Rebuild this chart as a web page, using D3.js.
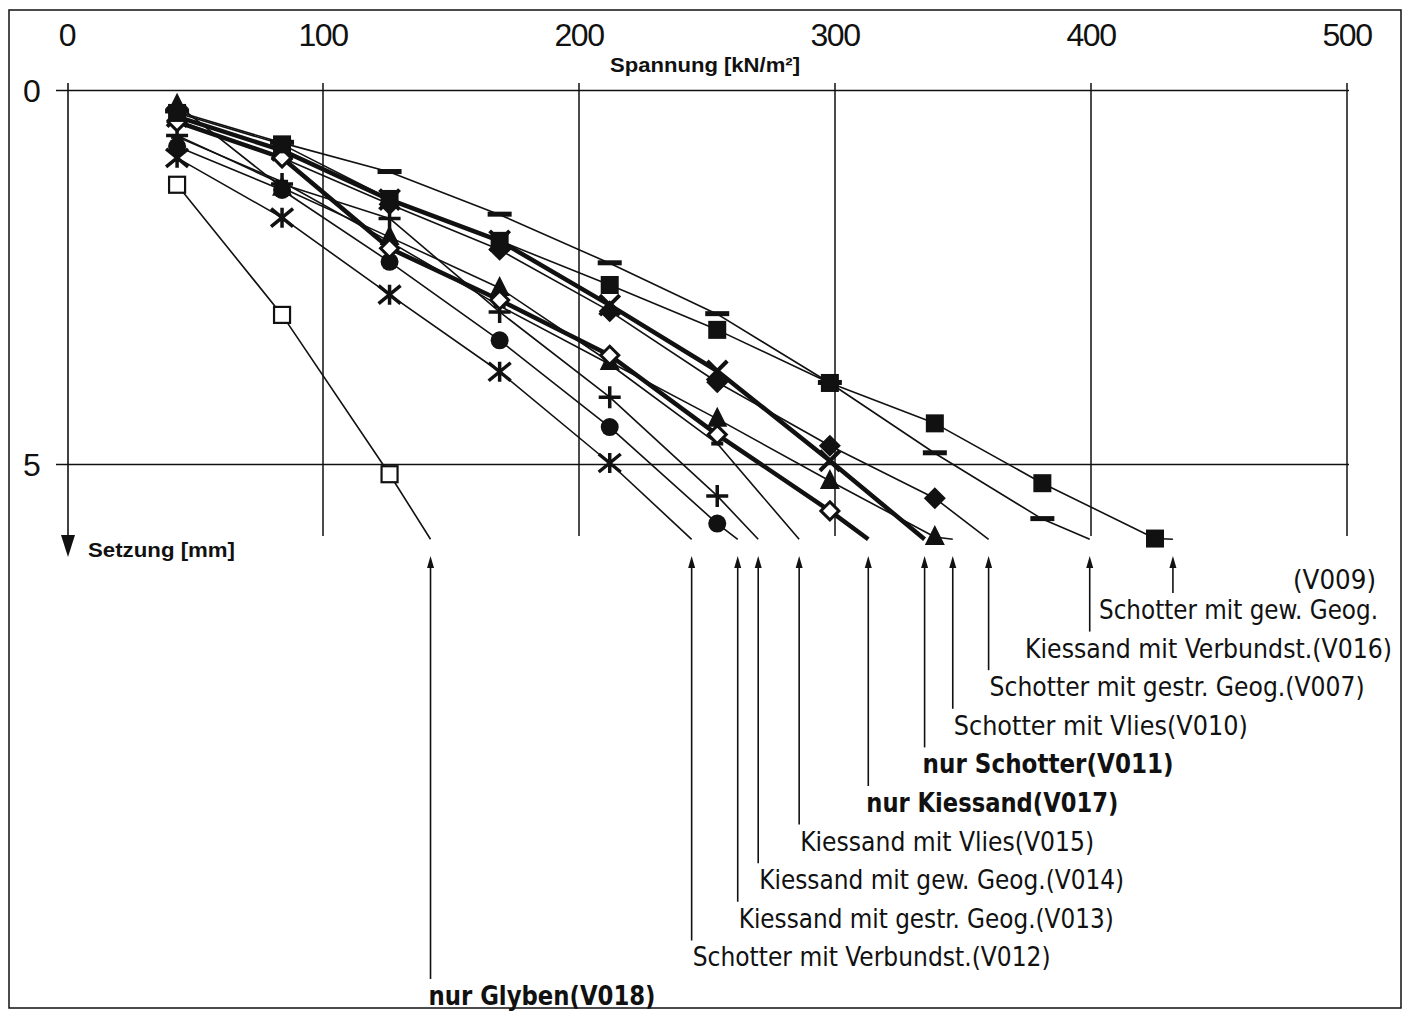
<!DOCTYPE html>
<html><head><meta charset="utf-8">
<script src="https://cdn.jsdelivr.net/npm/d3@7"></script>
<style>body{margin:0;background:#fff}</style>
</head><body>
<svg id="c" width="1412" height="1012"></svg>
<script>
// ---------- data ----------
const loads = [43, 84, 126, 169, 212, 254, 298, 339, 381, 425];   // Spannung [kN/m²]
const xTicks = [0, 100, 200, 300, 400, 500];
const yTicks = [0, 5];
const seriesIds = ["V009","V016","V007","V010","V011","V017","V015","V014","V013","V012","V018"];
const seriesLabels = ["Schotter mit gew. Geog.","Kiessand mit Verbundst.","Schotter mit gestr. Geog.",
  "Schotter mit Vlies","nur Schotter","nur Kiessand","Kiessand mit Vlies","Kiessand mit gew. Geog.",
  "Kiessand mit gestr. Geog.","Schotter mit Verbundst.","nur Glyben"];
// Setzung [mm] per load step
const v009 = [0.30, 0.72, 1.45, 2.01, 2.60, 3.20, 3.91, 4.45, 5.25, 5.99];
const v016 = [0.28, 0.70, 1.09, 1.66, 2.31, 2.99, 3.91, 4.85, 5.73];
const v007 = [0.40, 0.90, 1.52, 2.13, 2.95, 3.90, 4.75, 5.45];
const v010 = [0.19, 1.30, 1.96, 2.64, 3.63, 4.39, 5.22, 5.97];
const v011 = [0.35, 0.80, 1.46, 2.01, 2.87, 3.75, 4.95];
const v017 = [0.42, 0.90, 2.11, 2.80, 3.54, 4.60, 5.62];
const v015 = [0.62, 1.22, 2.02, 2.88, 3.66, 4.72];
const v014 = [0.60, 1.25, 1.71, 2.96, 4.10, 5.42];
const v013 = [0.75, 1.33, 2.29, 3.34, 4.50, 5.79];
const v012 = [0.90, 1.70, 2.73, 3.76, 4.98];
const v018 = [1.26, 3.00, 5.13];
const seriesValues = [v009, v016, v007, v010, v011, v017, v015, v014, v013, v012, v018];
// load where each curve leaves the diagram (at 6 mm)
const endLoads = [432, 399.5, 360, 346, 335, 313, 286, 270, 262, 244, 142];
const cutSetzung = 6;

// ---------- styles / layout ----------
const markerOf = {V009:"square",V016:"bar",V007:"diamond",V010:"triangle",V011:"cross",V017:"diamondOpen",
  V015:"dash",V014:"plus",V013:"circle",V012:"asterisk",V018:"squareOpen"};
const thick = {V011:true, V017:true};
const boldLabel = {V011:true, V017:true, V018:true};
const labelWidth = {V009:279,V016:367,V007:375,V010:294,V011:251,V017:252,V015:294,V014:365,V013:375,V012:358,V018:227};

const svg = d3.select("#c");
const x = d3.scaleLinear().domain([0,500]).range([67,1347]);
const y = d3.scaleLinear().domain([0,5]).range([90.5,464.5]);
const ink = "#111";

// frame
svg.append("rect").attr("x",9).attr("y",10).attr("width",1392).attr("height",998)
  .attr("fill","none").attr("stroke",ink).attr("stroke-width",1.5);

// grid
svg.selectAll(".vg").data(xTicks.filter(d=>d>0)).join("line")
  .attr("x1",d=>x(d)).attr("x2",d=>x(d)).attr("y1",83).attr("y2",536)
  .attr("stroke",ink).attr("stroke-width",1.5);
svg.selectAll(".hg").data(yTicks).join("line")
  .attr("x1",56).attr("x2",x(500)+2).attr("y1",d=>y(d)).attr("y2",d=>y(d))
  .attr("stroke",ink).attr("stroke-width",1.5);
// y axis arrow
svg.append("line").attr("x1",x(0)+1).attr("x2",x(0)+1).attr("y1",83).attr("y2",540)
  .attr("stroke",ink).attr("stroke-width",1.6);
svg.append("path").attr("d",`M${x(0)-6},535 L${x(0)+8},535 L${x(0)+1},557 Z`).attr("fill",ink);

// tick labels
svg.selectAll(".xt").data(xTicks).join("text")
  .attr("x",d=>x(d)).attr("y",46).attr("text-anchor","middle")
  .attr("font-family","Liberation Sans, Arial, sans-serif").attr("font-size",32).attr("fill",ink)
  .attr("letter-spacing",-1.5).text(d=>d);
svg.selectAll(".yt").data(yTicks).join("text")
  .attr("x",32).attr("y",d=>y(d)+11).attr("text-anchor","middle")
  .attr("font-family","Liberation Sans, Arial, sans-serif").attr("font-size",32).attr("fill",ink).text(d=>d);
svg.append("text").attr("x",705).attr("y",72).attr("text-anchor","middle")
  .attr("font-family","Liberation Sans, Arial, sans-serif").attr("font-weight","bold").attr("font-size",21)
  .attr("fill",ink).attr("textLength",190).attr("lengthAdjust","spacingAndGlyphs").text("Spannung [kN/m²]");
svg.append("text").attr("x",88).attr("y",557)
  .attr("font-family","Liberation Sans, Arial, sans-serif").attr("font-weight","bold").attr("font-size",21)
  .attr("fill",ink).attr("textLength",147).attr("lengthAdjust","spacingAndGlyphs").text("Setzung [mm]");

// lines
const line = d3.line().x(d=>x(d[0])).y(d=>y(d[1]));
const series = seriesIds.map((id,i)=>({
  id, label: seriesLabels[i], end: endLoads[i],
  pts: seriesValues[i].map((v,j)=>[loads[j], v])
}));
const drawOrder = [...series].sort((a,b)=>(thick[a.id]?1:0)-(thick[b.id]?1:0));
svg.selectAll(".ln").data(drawOrder).join("path")
  .attr("d",s=>line([...s.pts, [s.end, cutSetzung]]))
  .attr("fill","none").attr("stroke",ink)
  .attr("stroke-width",s=>thick[s.id]?4.5:1.6).attr("stroke-linejoin","round");

// markers
function marker(g, type, cx, cy){
  const r = 9;
  switch(type){
    case "square": g.append("rect").attr("x",cx-r).attr("y",cy-r).attr("width",2*r).attr("height",2*r).attr("fill",ink); break;
    case "squareOpen": g.append("rect").attr("x",cx-8).attr("y",cy-8).attr("width",16).attr("height",16).attr("fill","#fff").attr("stroke",ink).attr("stroke-width",2.2); break;
    case "bar": g.append("rect").attr("x",cx-12).attr("y",cy-3).attr("width",24).attr("height",5).attr("fill",ink); break;
    case "dash": g.append("rect").attr("x",cx-6).attr("y",cy-2).attr("width",12).attr("height",4).attr("fill",ink); break;
    case "diamond": g.append("path").attr("d",`M${cx},${cy-11}L${cx+11},${cy}L${cx},${cy+11}L${cx-11},${cy}Z`).attr("fill",ink); break;
    case "diamondOpen": g.append("path").attr("d",`M${cx},${cy-9}L${cx+9},${cy}L${cx},${cy+9}L${cx-9},${cy}Z`).attr("fill","#fff").attr("stroke",ink).attr("stroke-width",3); break;
    case "triangle": g.append("path").attr("d",`M${cx},${cy-12}L${cx+10},${cy+8}L${cx-10},${cy+8}Z`).attr("fill",ink); break;
    case "circle": g.append("circle").attr("cx",cx).attr("cy",cy).attr("r",9).attr("fill",ink); break;
    case "cross": g.append("path").attr("d",`M${cx-10},${cy-10}L${cx+10},${cy+10}M${cx+10},${cy-10}L${cx-10},${cy+10}`).attr("stroke",ink).attr("stroke-width",4); break;
    case "plus": g.append("path").attr("d",`M${cx-11},${cy}L${cx+11},${cy}M${cx},${cy-11}L${cx},${cy+11}`).attr("stroke",ink).attr("stroke-width",3.5); break;
    case "asterisk": g.append("path").attr("d",`M${cx-11},${cy-9}L${cx+11},${cy+9}M${cx+11},${cy-9}L${cx-11},${cy+9}M${cx},${cy-10}L${cx},${cy+10}`).attr("stroke",ink).attr("stroke-width",3.5); break;
  }
}
const markerOrder = ["V018","V012","V013","V014","V015","V010","V011","V007","V017","V016","V009"];
markerOrder.forEach(id=>{
  const s = series.find(d=>d.id===id);
  const g = svg.append("g");
  s.pts.forEach(p=>marker(g, markerOf[id], x(p[0]), y(p[1])));
});

// labels with arrows
const rowCenter = k => 610 + k*38.6;
const labelFont = "'DejaVu Sans Condensed','DejaVu Sans',sans-serif";
series.forEach((s,k)=>{
  const ax = x(s.end);
  const cy = rowCenter(k);
  const arrowBottom = cy - 17;
  svg.append("line").attr("x1",ax).attr("x2",ax).attr("y1",562).attr("y2",arrowBottom)
    .attr("stroke",ink).attr("stroke-width",1.6);
  svg.append("path").attr("d",`M${ax},556 L${ax+3.5},568 L${ax-3.5},568 Z`).attr("fill",ink);
  const t = svg.append("text").attr("y",cy+9)
    .attr("font-family",labelFont).attr("font-stretch","condensed")
    .attr("font-size",27).attr("fill",ink)
    .attr("font-weight",boldLabel[s.id]?"bold":"normal")
    .attr("textLength",labelWidth[s.id]).attr("lengthAdjust","spacingAndGlyphs");
  if(s.id==="V009"){
    t.attr("x",1378).attr("text-anchor","end").text(s.label);
    svg.append("text").attr("x",1376).attr("y",rowCenter(0)-30+9).attr("text-anchor","end")
      .attr("font-family",labelFont).attr("font-stretch","condensed").attr("font-size",27).attr("fill",ink)
      .attr("textLength",83).attr("lengthAdjust","spacingAndGlyphs").text("("+s.id+")");
  } else if(s.id==="V016"){
    t.attr("x",1392).attr("text-anchor","end").text(s.label+"("+s.id+")");
  } else {
    t.attr("x",ax + (boldLabel[s.id]?-2:1)).text(s.label+"("+s.id+")");
  }
});
</script>
</body></html>
